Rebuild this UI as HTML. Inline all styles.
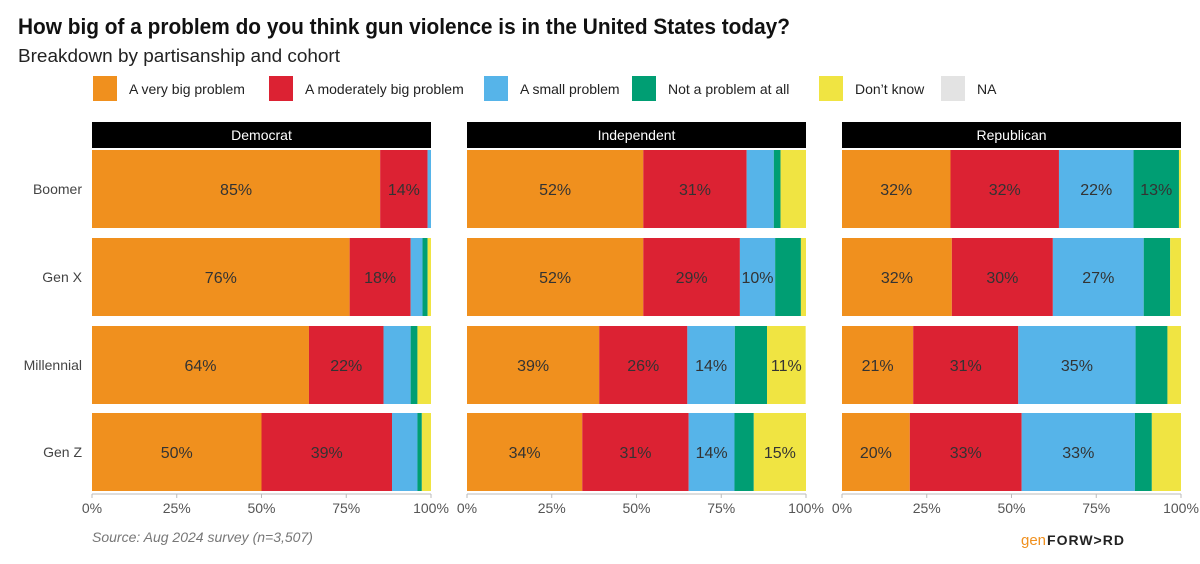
<!DOCTYPE html>
<html><head><meta charset="utf-8"><style>
body{margin:0;background:#fff;}
svg{display:block;font-family:"Liberation Sans",sans-serif;}
</style></head><body>
<svg id="chart" width="1200" height="564" viewBox="0 0 1200 564">
<text x="18" y="34" font-size="22" font-weight="bold" fill="#111" textLength="772" lengthAdjust="spacingAndGlyphs">How big of a problem do you think gun violence is in the United States today?</text>
<text x="18" y="62" font-size="18" fill="#222" textLength="322" lengthAdjust="spacingAndGlyphs">Breakdown by partisanship and cohort</text>
<g id="legend"></g>
<g id="panels"></g>
<text x="92" y="542" font-size="14" font-style="italic" fill="#777">Source: Aug 2024 survey (n=3,507)</text>
<g><text x="1021" y="545" font-size="15" fill="#F0901E">gen</text><text x="1047" y="545" font-size="14" font-weight="bold" fill="#222" textLength="77">FORW&gt;RD</text></g>
</svg>
<script>
const categories = ["A very big problem","A moderately big problem","A small problem","Not a problem at all","Don\u2019t know","NA"];
const colors = ["#F0901E","#DC2233","#56B4E9","#009E73","#F0E442","#E3E3E3"];
const parties = ["Democrat","Independent","Republican"];
const cohorts = ["Boomer","Gen X","Millennial","Gen Z"];
const ticks = [0,25,50,75,100];
// values[party][cohort] = [very big, moderately, small, not, don't know]
const dem = [[85,14,1,0,0],[76,18,3.5,1.5,1],[64,22,8,2,4],[50,38.5,7.5,1.3,2.7]];
const ind = [[52,30.5,8,2,7.5],[52,28.5,10.4,7.6,1.5],[39,26,14,9.5,11.4],[34,31.4,13.5,5.7,15.4]];
const rep = [[32,32,22,13.4,0.6],[32.4,29.8,26.8,7.8,3.2],[21,31,34.6,9.4,4],[20,33,33.4,5,8.6]];
const values = [dem, ind, rep];

const NS="http://www.w3.org/2000/svg";
function mk(tag, attrs, parent){const e=document.createElementNS(NS,tag);for(const k in attrs)e.setAttribute(k,attrs[k]);parent.appendChild(e);return e;}

const legend=document.getElementById('legend');
const legX=[93,269,484,632,819,941];
categories.forEach((c,i)=>{
  const r=mk('rect',{x:legX[i],y:76,width:24,height:25,fill:colors[i]},legend);
  
  
  const t=mk('text',{x:legX[i]+36,y:94,'font-size':14,fill:'#222'},legend);
  t.textContent=c;
  
  
});

const panelsG=document.getElementById('panels');
const panelX=[92,467,842], panelW=339;
const rowY=[150,238,326,413], barH=78;
parties.forEach((p,pi)=>{
  const x0=panelX[pi];
  const xs=v=>x0+v/100*panelW;
  const g=mk('g',{},panelsG);
  
  
  const h=mk('rect',{x:x0,y:122,width:panelW,height:26,fill:'#000'},g);
  
  
  const ht=mk('text',{x:x0+panelW/2,y:140,'font-size':14,fill:'#fff','text-anchor':'middle'},g);
  ht.textContent=p;
  
  
  cohorts.forEach((c,ci)=>{
    const vals=values[pi][ci];
    let acc=0;
    vals.forEach((v,k)=>{
      if(v<=0){return;}
      const r=mk('rect',{x:xs(acc),y:rowY[ci],width:xs(acc+v)-xs(acc),height:barH,fill:colors[k]},g);
      
      
      if(v>=10){
        const t=mk('text',{x:(xs(acc)+xs(acc+v))/2,y:rowY[ci]+barH/2+6,'font-size':16,fill:'#333','text-anchor':'middle'},g);
        t.textContent=Math.round(v)+'%';
        
        
      }
      acc+=v;
    });
    if(pi===0){
      const lt=mk('text',{x:82,y:rowY[ci]+barH/2+5,'font-size':14,fill:'#444','text-anchor':'end'},panelsG);
      lt.textContent=c;
      
      
    }
  });
  const ax=mk('line',{x1:x0,x2:x0+panelW,y1:494,y2:494,stroke:'#bbb','stroke-width':1},g);
  
  
  ticks.forEach(tv=>{
    const tl=mk('line',{x1:xs(tv),x2:xs(tv),y1:494,y2:498,stroke:'#bbb'},g);
    
    
    const tt=mk('text',{x:xs(tv),y:513,'font-size':14,fill:'#555','text-anchor':'middle'},g);
    tt.textContent=tv+'%';
    
    
  });
});
</script>
</body></html>
